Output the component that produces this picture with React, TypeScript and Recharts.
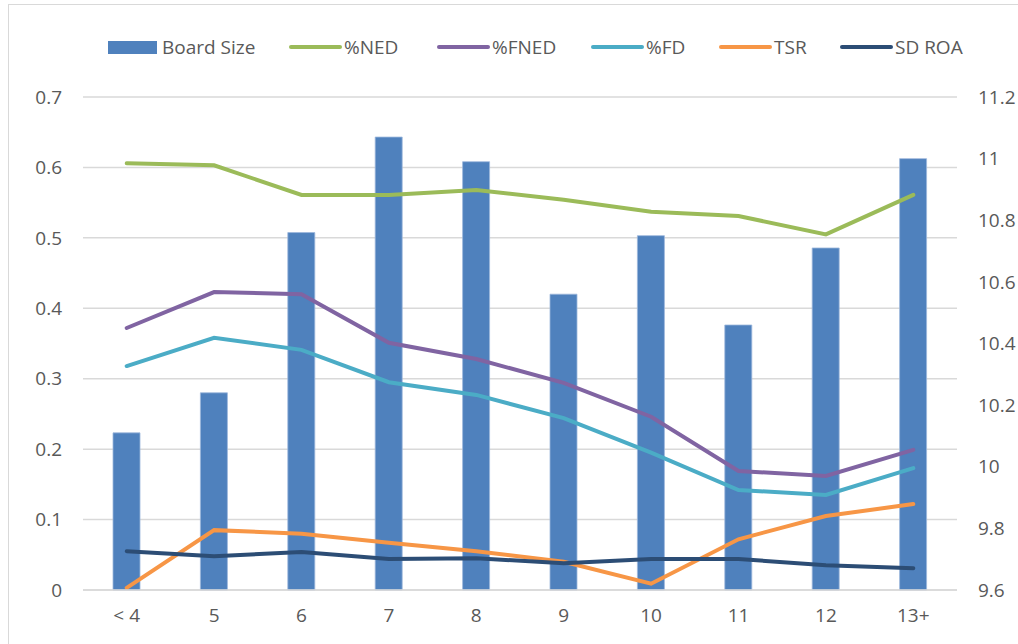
import { ComposedChart, Bar, Line, XAxis, YAxis, CartesianGrid } from "recharts";

const categories = ["< 4", "5", "6", "7", "8", "9", "10", "11", "12", "13+"];
const boardSize = [10.11, 10.24, 10.76, 11.07, 10.99, 10.56, 10.75, 10.46, 10.71, 11.0];
const ned = [0.606, 0.603, 0.561, 0.561, 0.568, 0.554, 0.537, 0.531, 0.505, 0.561];
const fned = [0.372, 0.423, 0.42, 0.351, 0.328, 0.294, 0.246, 0.169, 0.162, 0.199];
const fd = [0.318, 0.358, 0.341, 0.295, 0.277, 0.244, 0.195, 0.142, 0.135, 0.173];
const tsr = [0.003, 0.085, 0.08, 0.067, 0.055, 0.04, 0.009, 0.072, 0.105, 0.122];
const sdRoa = [0.055, 0.048, 0.054, 0.044, 0.045, 0.038, 0.044, 0.044, 0.035, 0.031];

const leftTicks = [0, 0.1, 0.2, 0.3, 0.4, 0.5, 0.6, 0.7];
const rightTicks = [9.6, 9.8, 10, 10.2, 10.4, 10.6, 10.8, 11, 11.2];

const lines = [
  { key: "ned", name: "%NED", color: "#9BBB59" },
  { key: "fned", name: "%FNED", color: "#8064A2" },
  { key: "fd", name: "%FD", color: "#4BACC6" },
  { key: "tsr", name: "TSR", color: "#F79646" },
  { key: "sdRoa", name: "SD ROA", color: "#2C4D75" },
];

const data = categories.map((c, i) => ({
  cat: c,
  board: boardSize[i],
  ned: ned[i],
  fned: fned[i],
  fd: fd[i],
  tsr: tsr[i],
  sdRoa: sdRoa[i],
}));

const FONT = "'Open Sans', 'Noto Sans', sans-serif";
const tick = { fontSize: 19, fill: "#595959", fontFamily: FONT };

// legend x positions
const legendX = [289, 437, 591, 719, 840];

export default function App() {
  return (
    <div style={{ position: "absolute", left: 0, top: 0, width: 1018, height: 644, overflow: "hidden", background: "#fff" }}>
      <div
        style={{
          position: "absolute",
          left: 8,
          top: 4,
          width: 1030,
          height: 660,
          border: "1.5px solid #d9d9d9",
          boxSizing: "border-box",
        }}
      />
      <div style={{ position: "absolute", left: 0, top: 0 }}>
        <ComposedChart width={1018} height={644} data={data} margin={{ top: 97, right: 1, left: 23, bottom: 14 }}>
          <CartesianGrid vertical={false} stroke="#d9d9d9" strokeWidth={1.5} yAxisId="left" />
          <XAxis
            dataKey="cat"
            tickLine={false}
            axisLine={{ stroke: "#d9d9d9", strokeWidth: 1.5 }}
            tick={tick}
            tickSize={0}
            tickMargin={19}
            height={40}
            interval={0}
          />
          <YAxis
            yAxisId="left"
            domain={[0, 0.7]}
            ticks={leftTicks}
            axisLine={false}
            tickLine={false}
            tickSize={0}
            tickMargin={21}
            width={60}
            tick={tick}
          />
          <YAxis
            yAxisId="right"
            orientation="right"
            domain={[9.6, 11.2]}
            ticks={rightTicks}
            axisLine={false}
            tickLine={false}
            tickSize={0}
            tickMargin={21}
            width={60}
            tick={{ ...tick, textAnchor: "start" }}
          />
          <Bar
            yAxisId="right"
            dataKey="board"
            fill="#4F81BD"
            stroke="#9DB8DC"
            strokeWidth={0.8}
            barSize={27}
            isAnimationActive={false}
          />
          {lines.map((l) => (
            <Line
              key={l.key}
              yAxisId="left"
              type="linear"
              dataKey={l.key}
              stroke={l.color}
              strokeWidth={4}
              strokeLinecap="round"
              dot={false}
              activeDot={false}
              isAnimationActive={false}
            />
          ))}
        </ComposedChart>
      </div>
      <div style={{ position: "absolute", left: 108, top: 41, width: 49, height: 13, background: "#4F81BD" }} />
      <div style={{ position: "absolute", left: 162, top: 33, fontSize: 19, fontFamily: FONT, color: "#595959", lineHeight: "28px" }}>
        Board Size
      </div>
      {lines.map((l, i) => (
        <div key={l.key}>
          <div
            style={{
              position: "absolute",
              left: legendX[i],
              top: 45,
              width: 53,
              height: 4,
              borderRadius: 2,
              background: l.color,
            }}
          />
          <div
            style={{
              position: "absolute",
              left: legendX[i] + 55,
              top: 33,
              fontSize: 19,
              fontFamily: FONT,
              color: "#595959",
              lineHeight: "28px",
              whiteSpace: "nowrap",
            }}
          >
            {l.name}
          </div>
        </div>
      ))}
    </div>
  );
}
